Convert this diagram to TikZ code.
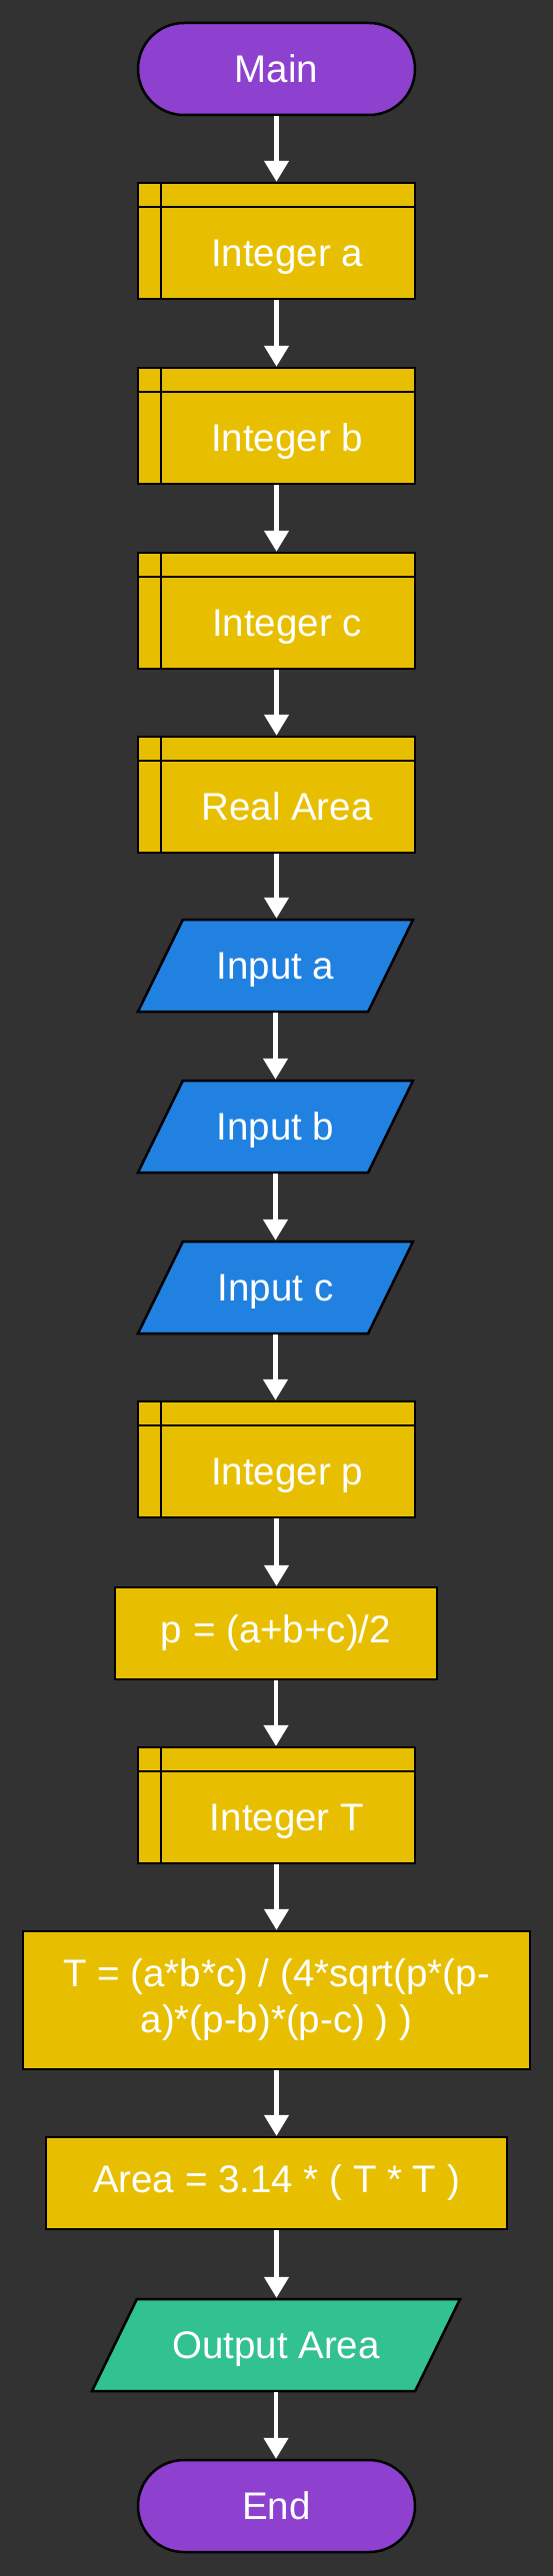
\documentclass[tikz,border=0pt]{standalone}
\usepackage{fontspec}
\setmainfont{Liberation Sans}
\usetikzlibrary{arrows.meta,shapes.geometric}

\definecolor{bgcol}{HTML}{323232}
\definecolor{termcol}{HTML}{8E40CF}
\definecolor{boxcol}{HTML}{E8BF00}
\definecolor{incol}{HTML}{2081E0}
\definecolor{outcol}{HTML}{32C191}

\tikzset{
  shp/.style={draw=black, line width=2.5pt, text=white, inner sep=0pt,
    font=\fontsize{38.5pt}{46pt}\selectfont},
  term/.style={shp, fill=termcol, rectangle, rounded corners=45.9pt,
    minimum width=277pt, minimum height=92pt},
  declare/.style={shp, fill=boxcol, rectangle, minimum width=277pt, minimum height=116pt,
    text height=51.6pt, text depth=0pt, % text sits low in the box
    path picture={
      \draw[line width=2.5pt] ([xshift=23pt]path picture bounding box.north west)
        -- ([xshift=23pt]path picture bounding box.south west);
      \draw[line width=2.5pt] ([yshift=-24pt]path picture bounding box.north west)
        -- ([yshift=-24pt]path picture bounding box.north east);
    }},
  proc/.style={shp, fill=boxcol, rectangle, minimum height=92pt, align=center},
  % body is 92pt high so the sides keep their slant
  inout/.style={shp, trapezium, trapezium left angle=64, trapezium right angle=116,
    trapezium stretches body=true, text height=59.8pt, text depth=32.2pt},
  flow/.style={->, draw=white, line width=4.5pt}
}

\begin{document}
\begin{tikzpicture}[x=1pt, y=-1pt, >={Triangle[width=24pt,length=21pt]}]
  % background
  \fill[bgcol] (0,0) rectangle (553,2577);

  % start
  \node[term] (main) at (276.5,69) {Main};

  % declarations
  \node[declare] (decA) at (276.5,241) {\hspace*{21pt}Integer a};
  \node[declare] (decB) at (276.5,426) {\hspace*{21pt}Integer b};
  \node[declare] (decC) at (276.5,611) {\hspace*{21pt}Integer c};
  \node[declare] (decArea) at (276.5,795) {\hspace*{21pt}Real Area};

  % inputs
  \node[inout, fill=incol, minimum width=275pt] (inA) at (275.5,966) {Input a};
  \node[inout, fill=incol, minimum width=275pt] (inB) at (275.5,1127) {Input b};
  \node[inout, fill=incol, minimum width=275pt] (inC) at (275.5,1288) {Input c};

  % half perimeter
  \node[declare] (decP) at (276.5,1460) {\hspace*{21pt}Integer p};
  \node[proc, minimum width=322pt] (calcP) at (276,1634) {p = (a+b+c)/2};

  % T and area
  \node[declare] (decT) at (276.5,1806) {\hspace*{21pt}Integer T};
  \node[proc, minimum width=507pt, minimum height=138pt] (calcT) at (276.5,2001)
    {T = (a*b*c) / (4*sqrt(p*(p-\\a)*(p-b)*(p-c) ) )};
  \node[proc, minimum width=461pt] (calcArea) at (276.5,2184) {Area = 3.14 * ( T * T )};

  % output and end
  \node[inout, fill=outcol, minimum width=368pt] (outArea) at (276,2346) {Output Area};
  \node[term] (stop) at (276.5,2507) {End};

  % arrows
  \foreach \a/\b in {main/decA, decA/decB, decB/decC, decC/decArea, decArea/inA,
      inA/inB, inB/inC, inC/decP, decP/calcP, calcP/decT, decT/calcT,
      calcT/calcArea, calcArea/outArea, outArea/stop}
    \draw[flow] (\a.south) -- (\a.south |- \b.north);
\end{tikzpicture}
\end{document}
